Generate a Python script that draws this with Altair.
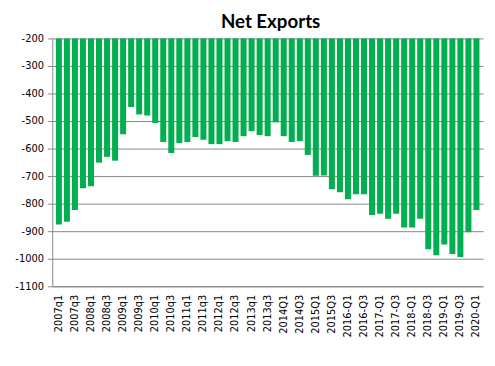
import altair as alt
import pandas as pd

quarters = (
    [f"{y}q{q}" for y in range(2007, 2014) for q in range(1, 5)]
    + [f"{y}Q{q}" for y in range(2014, 2016) for q in range(1, 5)]
    + [f"{y}-Q{q}" for y in range(2016, 2020) for q in range(1, 5)]
    + ["2020-Q1"]
)
net_exports = [
    -876, -866, -823, -744, -737, -651, -630, -644, -548, -449,
    -476, -480, -507, -576, -616, -580, -576, -558, -568, -584,
    -584, -573, -576, -555, -537, -551, -555, -505, -555, -576,
    -573, -623, -699, -698, -748, -759, -784, -766, -766, -841,
    -837, -855, -837, -887, -887, -855, -966, -987, -948, -983,
    -994, -904, -823,
]
y_ticks = [-200, -300, -400, -500, -600, -700, -800, -900, -1000, -1100]
shown_labels = quarters[::2]

df = pd.DataFrame({"quarter": quarters, "value": net_exports})

chart = (
    alt.Chart(df)
    .mark_bar(color="#00B050")
    .encode(
        x=alt.X(
            "quarter:N",
            sort=quarters,
            scale=alt.Scale(paddingInner=0.25, paddingOuter=0.45),
            axis=alt.Axis(
                title=None,
                values=shown_labels,
                labelAngle=270,
                labelAlign="right",
                labelBaseline="middle",
                labelFont="DejaVu Sans",
                labelFontSize=10,
                labelColor="#000000",
                labelPadding=8,
                ticks=False,
                domainColor="#868686",
                labelOverlap=False,
            ),
        ),
        y=alt.Y(
            "value:Q",
            scale=alt.Scale(domain=[-1100, -200], nice=False, zero=False),
            axis=alt.Axis(
                title=None,
                values=y_ticks,
                labelExpr="'' + datum.value",
                labelFont="DejaVu Sans",
                labelFontSize=10,
                labelColor="#000000",
                labelPadding=4,
                tickSize=5,
                tickColor="#868686",
                domainColor="#868686",
                gridColor="#868686",
                grid=True,
            ),
        ),
        y2=alt.datum(-200),
    )
    .properties(
        width=438,
        height=252,
        title=alt.TitleParams(
            "Net Exports",
            font="Lato",
            fontSize=19,
            fontWeight="bold",
            color="#000000",
            anchor="middle",
            offset=2,
            dx=3,
        ),
        autosize=alt.AutoSizeParams(type="none"),
        padding={"left": 45, "top": 28, "right": 4, "bottom": 70},
    )
    .configure_view(stroke=None)
)

chart.save("out.html", embed_options={"renderer": "svg", "actions": False})
